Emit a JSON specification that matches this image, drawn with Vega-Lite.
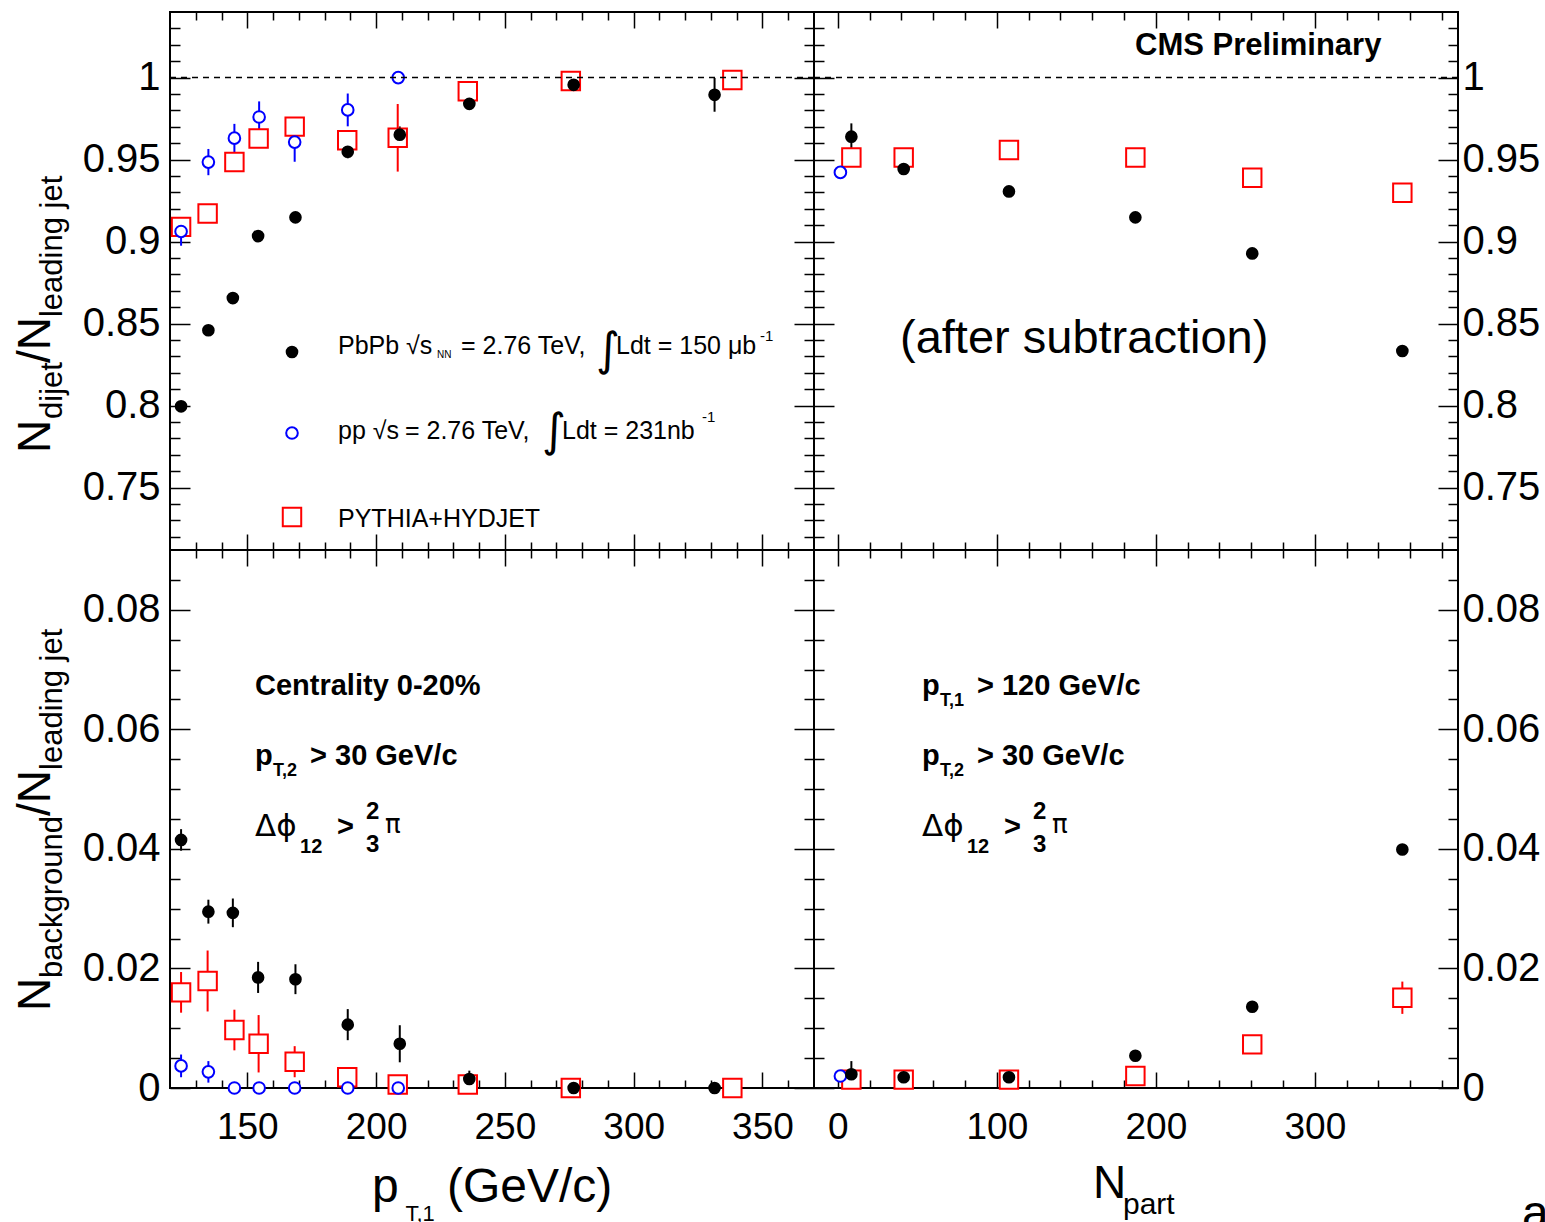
{
"$schema":"https://vega.github.io/schema/vega-lite/v6.json",
"background":"white",
"padding":{"left":11,"top":7,"right":5,"bottom":0},
"autosize":{"type":"pad"},
"config":{"view":{"stroke":"black","strokeWidth":2},"text":{"font":"Liberation Sans","color":"black"},"axis":{"tickColor":"black","tickWidth":1.5,"labelColor":"black","labelFont":"Liberation Sans","labelFontSize":37,"domain":false,"grid":false,"labelOverlap":false,"labelFlush":false,"labelBound":false},"axisY":{"labelFontSize":40}},
"datasets":{"pts":[
{"p":"TL","s":"PbPb","x":124.3,"y":0.7996,"e":0.002},
{"p":"TL","s":"PbPb","x":134.9,"y":0.846,"e":0.002},
{"p":"TL","s":"PbPb","x":144.4,"y":0.8656,"e":0.002},
{"p":"TL","s":"PbPb","x":154.2,"y":0.9034,"e":0.002},
{"p":"TL","s":"PbPb","x":168.7,"y":0.9148,"e":0.002},
{"p":"TL","s":"PbPb","x":189.0,"y":0.9548,"e":0.004},
{"p":"TL","s":"PbPb","x":209.2,"y":0.9652,"e":0.005},
{"p":"TL","s":"PbPb","x":236.2,"y":0.984,"e":0.002},
{"p":"TL","s":"PbPb","x":276.7,"y":0.9956,"e":0.003},
{"p":"TL","s":"PbPb","x":331.4,"y":0.9895,"e":0.0103},
{"p":"TL","s":"pp","x":124.3,"y":0.9062,"e":0.0087},
{"p":"TL","s":"pp","x":134.9,"y":0.9485,"e":0.008},
{"p":"TL","s":"pp","x":145.0,"y":0.9631,"e":0.0087},
{"p":"TL","s":"pp","x":154.6,"y":0.976,"e":0.0095},
{"p":"TL","s":"pp","x":168.4,"y":0.9607,"e":0.012},
{"p":"TL","s":"pp","x":189.0,"y":0.9803,"e":0.01},
{"p":"TL","s":"pp","x":208.6,"y":1.0,"e":0},
{"p":"TL","s":"PYTHIA+HYDJET","x":124.3,"y":0.909,"e":0.003},
{"p":"TL","s":"PYTHIA+HYDJET","x":134.6,"y":0.9171,"e":0.004},
{"p":"TL","s":"PYTHIA+HYDJET","x":145.0,"y":0.9485,"e":0.002},
{"p":"TL","s":"PYTHIA+HYDJET","x":154.4,"y":0.9629,"e":0.002},
{"p":"TL","s":"PYTHIA+HYDJET","x":168.4,"y":0.9701,"e":0.002},
{"p":"TL","s":"PYTHIA+HYDJET","x":188.8,"y":0.9618,"e":0.003},
{"p":"TL","s":"PYTHIA+HYDJET","x":208.4,"y":0.9633,"e":0.0206},
{"p":"TL","s":"PYTHIA+HYDJET","x":235.6,"y":0.9917,"e":0.002},
{"p":"TL","s":"PYTHIA+HYDJET","x":275.6,"y":0.9979,"e":0.002},
{"p":"TL","s":"PYTHIA+HYDJET","x":338.3,"y":0.9986,"e":0.001},
{"p":"BL","s":"PbPb","x":124.3,"y":0.0415,"e":0.0018},
{"p":"BL","s":"PbPb","x":134.9,"y":0.0295,"e":0.002},
{"p":"BL","s":"PbPb","x":144.4,"y":0.0293,"e":0.0024},
{"p":"BL","s":"PbPb","x":154.2,"y":0.0185,"e":0.0026},
{"p":"BL","s":"PbPb","x":168.7,"y":0.0182,"e":0.0025},
{"p":"BL","s":"PbPb","x":189.0,"y":0.0106,"e":0.0026},
{"p":"BL","s":"PbPb","x":209.2,"y":0.0074,"e":0.0031},
{"p":"BL","s":"PbPb","x":236.2,"y":0.0015,"e":0.0014},
{"p":"BL","s":"PbPb","x":276.7,"y":0.0,"e":0.0005},
{"p":"BL","s":"PbPb","x":331.4,"y":0.0,"e":0.0005},
{"p":"BL","s":"pp","x":124.3,"y":0.0037,"e":0.0019},
{"p":"BL","s":"pp","x":134.9,"y":0.0027,"e":0.0018},
{"p":"BL","s":"pp","x":145.0,"y":0.0,"e":0},
{"p":"BL","s":"pp","x":154.6,"y":0.0,"e":0},
{"p":"BL","s":"pp","x":168.4,"y":0.0,"e":0},
{"p":"BL","s":"pp","x":189.0,"y":0.0,"e":0},
{"p":"BL","s":"pp","x":208.6,"y":0.0,"e":0},
{"p":"BL","s":"PYTHIA+HYDJET","x":124.3,"y":0.016,"e":0.0034},
{"p":"BL","s":"PYTHIA+HYDJET","x":134.6,"y":0.0179,"e":0.0051},
{"p":"BL","s":"PYTHIA+HYDJET","x":145.0,"y":0.0097,"e":0.0034},
{"p":"BL","s":"PYTHIA+HYDJET","x":154.4,"y":0.0074,"e":0.0048},
{"p":"BL","s":"PYTHIA+HYDJET","x":168.4,"y":0.0044,"e":0.0026},
{"p":"BL","s":"PYTHIA+HYDJET","x":188.8,"y":0.0018,"e":0.001},
{"p":"BL","s":"PYTHIA+HYDJET","x":208.4,"y":0.0006,"e":0.0005},
{"p":"BL","s":"PYTHIA+HYDJET","x":235.6,"y":0.0006,"e":0.0005},
{"p":"BL","s":"PYTHIA+HYDJET","x":275.6,"y":0.0,"e":0},
{"p":"BL","s":"PYTHIA+HYDJET","x":338.3,"y":0.0,"e":0},
{"p":"TR","s":"PbPb","x":8.5,"y":0.964,"e":0.0081},
{"p":"TR","s":"PbPb","x":41.4,"y":0.9443,"e":0.002},
{"p":"TR","s":"PbPb","x":107.6,"y":0.9306,"e":0.002},
{"p":"TR","s":"PbPb","x":187.1,"y":0.9148,"e":0.002},
{"p":"TR","s":"PbPb","x":260.6,"y":0.8928,"e":0.002},
{"p":"TR","s":"PbPb","x":355.0,"y":0.8333,"e":0.002},
{"p":"TR","s":"pp","x":1.6,"y":0.9422,"e":0.002},
{"p":"TR","s":"PYTHIA+HYDJET","x":8.5,"y":0.9513,"e":0.002},
{"p":"TR","s":"PYTHIA+HYDJET","x":41.4,"y":0.9513,"e":0.002},
{"p":"TR","s":"PYTHIA+HYDJET","x":107.6,"y":0.9559,"e":0.002},
{"p":"TR","s":"PYTHIA+HYDJET","x":187.1,"y":0.9513,"e":0.002},
{"p":"TR","s":"PYTHIA+HYDJET","x":260.6,"y":0.9389,"e":0.002},
{"p":"TR","s":"PYTHIA+HYDJET","x":355.0,"y":0.9298,"e":0.002},
{"p":"BR","s":"PbPb","x":8.5,"y":0.0023,"e":0.0022},
{"p":"BR","s":"PbPb","x":41.4,"y":0.0018,"e":0.0008},
{"p":"BR","s":"PbPb","x":107.6,"y":0.0018,"e":0.0008},
{"p":"BR","s":"PbPb","x":187.1,"y":0.0054,"e":0.0008},
{"p":"BR","s":"PbPb","x":260.6,"y":0.0136,"e":0.0008},
{"p":"BR","s":"PbPb","x":355.0,"y":0.0399,"e":0.0008},
{"p":"BR","s":"pp","x":1.6,"y":0.002,"e":0.0005},
{"p":"BR","s":"PYTHIA+HYDJET","x":8.5,"y":0.0014,"e":0.0005},
{"p":"BR","s":"PYTHIA+HYDJET","x":41.4,"y":0.0014,"e":0.0005},
{"p":"BR","s":"PYTHIA+HYDJET","x":107.6,"y":0.0014,"e":0.0005},
{"p":"BR","s":"PYTHIA+HYDJET","x":187.1,"y":0.002,"e":0.0005},
{"p":"BR","s":"PYTHIA+HYDJET","x":260.6,"y":0.0073,"e":0.0008},
{"p":"BR","s":"PYTHIA+HYDJET","x":355.0,"y":0.0151,"e":0.0027}
]},
"data":{"name":"pts"},
"spacing":0,
"bounds":"flush",
"columns":2,
"concat":[
{
"width":644,"height":538,
"resolve":{"axis":{"x":"independent","y":"independent"}},
"layer":[
{"transform":[{"filter":"datum.p==='TL' && datum.e>0"}],
 "mark":{"type":"errorbar","ticks":false,"thickness":2},
 "encoding":{"x":{"field":"x","type":"quantitative","scale":{"domain":[120,370],"nice":false,"zero":false},"axis":null},
  "y":{"field":"y","type":"quantitative","scale":{"domain":[0.712,1.04],"nice":false,"zero":false},"axis":null},
  "yError":{"field":"e"},
  "color":{"field":"s","type":"nominal","scale":{"domain":["PbPb","pp","PYTHIA+HYDJET"],"range":["#000000","#0000ff","#ff0000"]},"legend":null}}},
{"transform":[{"filter":"datum.p==='TL' && datum.s==='PYTHIA+HYDJET'"}],
 "mark":{"type":"point","shape":"square","size":340,"filled":true,"fill":"white","stroke":"#ff0000","strokeWidth":2,"opacity":1},
 "encoding":{"x":{"field":"x","type":"quantitative","scale":{"domain":[120,370],"nice":false,"zero":false},
   "axis":{"orient":"bottom","title":null,"values":[130,140,150,160,170,180,190,200,210,220,230,240,250,260,270,280,290,300,310,320,330,340,350,360],"labels":false,"tickSize":{"condition":{"test":"datum.value % 50 === 0","value":-16},"value":-8}}},
  "y":{"field":"y","type":"quantitative","scale":{"domain":[0.712,1.04],"nice":false,"zero":false},
   "axis":{"orient":"left","title":null,"values":[0.72,0.73,0.74,0.75,0.76,0.77,0.78,0.79,0.8,0.81,0.82,0.83,0.84,0.85,0.86,0.87,0.88,0.89,0.9,0.91,0.92,0.93,0.94,0.95,0.96,0.97,0.98,0.99,1,1.01,1.02,1.03],"labelExpr":"round(datum.value*100) % 5 === 0 ? format(datum.value,'~g') : ''","labelPadding":30,"tickSize":{"condition":{"test":"round(datum.value*100) % 5 === 0","value":-20},"value":-10}}}}},
{"transform":[{"filter":"datum.p==='TL' && datum.s==='pp'"}],
 "mark":{"type":"point","shape":"circle","size":135,"filled":true,"fill":"white","stroke":"#0000ff","strokeWidth":2,"opacity":1},
 "encoding":{"x":{"field":"x","type":"quantitative","scale":{"domain":[120,370],"nice":false,"zero":false},"axis":null},
  "y":{"field":"y","type":"quantitative","scale":{"domain":[0.712,1.04],"nice":false,"zero":false},"axis":null}}},
{"transform":[{"filter":"datum.p==='TL' && datum.s==='PbPb'"}],
 "mark":{"type":"point","shape":"circle","size":160,"filled":true,"fill":"black","strokeWidth":0,"opacity":1},
 "encoding":{"x":{"field":"x","type":"quantitative","scale":{"domain":[120,370],"nice":false,"zero":false},
   "axis":{"orient":"top","title":null,"values":[130,140,150,160,170,180,190,200,210,220,230,240,250,260,270,280,290,300,310,320,330,340,350,360],"labels":false,"tickSize":{"condition":{"test":"datum.value % 50 === 0","value":-16},"value":-8}}},
  "y":{"field":"y","type":"quantitative","scale":{"domain":[0.712,1.04],"nice":false,"zero":false},
   "axis":{"orient":"right","title":null,"values":[0.72,0.73,0.74,0.75,0.76,0.77,0.78,0.79,0.8,0.81,0.82,0.83,0.84,0.85,0.86,0.87,0.88,0.89,0.9,0.91,0.92,0.93,0.94,0.95,0.96,0.97,0.98,0.99,1,1.01,1.02,1.03],"labels":false,"tickSize":{"condition":{"test":"round(datum.value*100) % 5 === 0","value":-20},"value":-10}}}}},
{"data":{"values":[{}]},
 "layer":[
 {"mark":{"type":"rule","strokeDash":[6,5],"strokeWidth":1.5,"color":"black"},"encoding":{"y":{"datum":1,"type":"quantitative","axis":null}}},
 {"mark":{"type":"point","shape":"circle","size":160,"filled":true,"fill":"black","strokeWidth":0,"opacity":1},"encoding":{"x":{"datum":167.36,"type":"quantitative","axis":null},"y":{"datum":0.8327,"type":"quantitative","axis":null}}},
 {"mark":{"type":"point","shape":"circle","size":135,"filled":true,"fill":"white","stroke":"#0000ff","strokeWidth":2,"opacity":1},"encoding":{"x":{"datum":167.36,"type":"quantitative","axis":null},"y":{"datum":0.7833,"type":"quantitative","axis":null}}},
 {"mark":{"type":"point","shape":"square","size":340,"filled":true,"fill":"white","stroke":"#ff0000","strokeWidth":2,"opacity":1},"encoding":{"x":{"datum":167.36,"type":"quantitative","axis":null},"y":{"datum":0.7321,"type":"quantitative","axis":null}}},
 {"mark":{"type":"text","text":"PbPb √s","fontSize":25,"align":"left","baseline":"alphabetic"},"encoding":{"x":{"datum":185.22,"type":"quantitative","axis":null},"y":{"datum":0.8315,"type":"quantitative","axis":null}}},
 {"mark":{"type":"text","text":"NN","fontSize":10,"align":"left","baseline":"alphabetic"},"encoding":{"x":{"datum":223.65,"type":"quantitative","axis":null},"y":{"datum":0.8291,"type":"quantitative","axis":null}}},
 {"mark":{"type":"text","text":"= 2.76 TeV,","fontSize":25,"align":"left","baseline":"alphabetic"},"encoding":{"x":{"datum":232.97,"type":"quantitative","axis":null},"y":{"datum":0.8315,"type":"quantitative","axis":null}}},
 {"mark":{"type":"text","text":"∫","font":"DejaVu Sans","fontSize":46,"align":"left","baseline":"alphabetic"},"encoding":{"x":{"datum":285.37,"type":"quantitative","axis":null},"y":{"datum":0.8248,"type":"quantitative","axis":null}}},
 {"mark":{"type":"text","text":"Ldt = 150 μb","fontSize":25,"align":"left","baseline":"alphabetic"},"encoding":{"x":{"datum":293.14,"type":"quantitative","axis":null},"y":{"datum":0.8315,"type":"quantitative","axis":null}}},
 {"mark":{"type":"text","text":"-1","fontSize":15,"align":"left","baseline":"alphabetic"},"encoding":{"x":{"datum":349.04,"type":"quantitative","axis":null},"y":{"datum":0.8394,"type":"quantitative","axis":null}}},
 {"mark":{"type":"text","text":"pp √s","fontSize":25,"align":"left","baseline":"alphabetic"},"encoding":{"x":{"datum":185.22,"type":"quantitative","axis":null},"y":{"datum":0.7797,"type":"quantitative","axis":null}}},
 {"mark":{"type":"text","text":"= 2.76 TeV,","fontSize":25,"align":"left","baseline":"alphabetic"},"encoding":{"x":{"datum":211.2,"type":"quantitative","axis":null},"y":{"datum":0.7797,"type":"quantitative","axis":null}}},
 {"mark":{"type":"text","text":"∫","font":"DejaVu Sans","fontSize":46,"align":"left","baseline":"alphabetic"},"encoding":{"x":{"datum":264.41,"type":"quantitative","axis":null},"y":{"datum":0.7754,"type":"quantitative","axis":null}}},
 {"mark":{"type":"text","text":"Ldt = 231nb","fontSize":25,"align":"left","baseline":"alphabetic"},"encoding":{"x":{"datum":272.17,"type":"quantitative","axis":null},"y":{"datum":0.7797,"type":"quantitative","axis":null}}},
 {"mark":{"type":"text","text":"-1","fontSize":15,"align":"left","baseline":"alphabetic"},"encoding":{"x":{"datum":326.52,"type":"quantitative","axis":null},"y":{"datum":0.79,"type":"quantitative","axis":null}}},
 {"mark":{"type":"text","text":"PYTHIA+HYDJET","fontSize":25,"align":"left","baseline":"alphabetic"},"encoding":{"x":{"datum":185.22,"type":"quantitative","axis":null},"y":{"datum":0.726,"type":"quantitative","axis":null}}},
 {"mark":{"type":"text","text":"N","fontSize":46,"angle":270,"align":"left","baseline":"alphabetic"},"encoding":{"x":{"datum":73.41,"type":"quantitative","axis":null},"y":{"datum":0.7711,"type":"quantitative","axis":null}}},
 {"mark":{"type":"text","text":"dijet","fontSize":31,"angle":270,"align":"left","baseline":"alphabetic"},"encoding":{"x":{"datum":78.07,"type":"quantitative","axis":null},"y":{"datum":0.7919,"type":"quantitative","axis":null}}},
 {"mark":{"type":"text","text":"/N","fontSize":46,"angle":270,"align":"left","baseline":"alphabetic"},"encoding":{"x":{"datum":73.41,"type":"quantitative","axis":null},"y":{"datum":0.826,"type":"quantitative","axis":null}}},
 {"mark":{"type":"text","text":"leading jet","fontSize":31,"angle":270,"align":"left","baseline":"alphabetic"},"encoding":{"x":{"datum":78.07,"type":"quantitative","axis":null},"y":{"datum":0.854,"type":"quantitative","axis":null}}}
 ]}
]
},
{
"width":644,"height":538,
"resolve":{"axis":{"x":"independent","y":"independent"}},
"layer":[
{"transform":[{"filter":"datum.p==='TR' && datum.e>0"}],
 "mark":{"type":"errorbar","ticks":false,"thickness":2},
 "encoding":{"x":{"field":"x","type":"quantitative","scale":{"domain":[-15,390],"nice":false,"zero":false},"axis":null},
  "y":{"field":"y","type":"quantitative","scale":{"domain":[0.712,1.04],"nice":false,"zero":false},"axis":null},
  "yError":{"field":"e"},
  "color":{"field":"s","type":"nominal","scale":{"domain":["PbPb","pp","PYTHIA+HYDJET"],"range":["#000000","#0000ff","#ff0000"]},"legend":null}}},
{"transform":[{"filter":"datum.p==='TR' && datum.s==='PYTHIA+HYDJET'"}],
 "mark":{"type":"point","shape":"square","size":340,"filled":true,"fill":"white","stroke":"#ff0000","strokeWidth":2,"opacity":1},
 "encoding":{"x":{"field":"x","type":"quantitative","scale":{"domain":[-15,390],"nice":false,"zero":false},
   "axis":{"orient":"bottom","title":null,"values":[0,20,40,60,80,100,120,140,160,180,200,220,240,260,280,300,320,340,360,380],"labels":false,"tickSize":{"condition":{"test":"datum.value % 100 === 0","value":-16},"value":-8}}},
  "y":{"field":"y","type":"quantitative","scale":{"domain":[0.712,1.04],"nice":false,"zero":false},
   "axis":{"orient":"left","title":null,"values":[0.72,0.73,0.74,0.75,0.76,0.77,0.78,0.79,0.8,0.81,0.82,0.83,0.84,0.85,0.86,0.87,0.88,0.89,0.9,0.91,0.92,0.93,0.94,0.95,0.96,0.97,0.98,0.99,1,1.01,1.02,1.03],"labels":false,"tickSize":{"condition":{"test":"round(datum.value*100) % 5 === 0","value":-20},"value":-10}}}}},
{"transform":[{"filter":"datum.p==='TR' && datum.s==='pp'"}],
 "mark":{"type":"point","shape":"circle","size":135,"filled":true,"fill":"white","stroke":"#0000ff","strokeWidth":2,"opacity":1},
 "encoding":{"x":{"field":"x","type":"quantitative","scale":{"domain":[-15,390],"nice":false,"zero":false},"axis":null},
  "y":{"field":"y","type":"quantitative","scale":{"domain":[0.712,1.04],"nice":false,"zero":false},"axis":null}}},
{"transform":[{"filter":"datum.p==='TR' && datum.s==='PbPb'"}],
 "mark":{"type":"point","shape":"circle","size":160,"filled":true,"fill":"black","strokeWidth":0,"opacity":1},
 "encoding":{"x":{"field":"x","type":"quantitative","scale":{"domain":[-15,390],"nice":false,"zero":false},
   "axis":{"orient":"top","title":null,"values":[0,20,40,60,80,100,120,140,160,180,200,220,240,260,280,300,320,340,360,380],"labels":false,"tickSize":{"condition":{"test":"datum.value % 100 === 0","value":-16},"value":-8}}},
  "y":{"field":"y","type":"quantitative","scale":{"domain":[0.712,1.04],"nice":false,"zero":false},
   "axis":{"orient":"right","title":null,"values":[0.72,0.73,0.74,0.75,0.76,0.77,0.78,0.79,0.8,0.81,0.82,0.83,0.84,0.85,0.86,0.87,0.88,0.89,0.9,0.91,0.92,0.93,0.94,0.95,0.96,0.97,0.98,0.99,1,1.01,1.02,1.03],"labelExpr":"round(datum.value*100) % 5 === 0 ? format(datum.value,'~g') : ''","labelPadding":24,"tickSize":{"condition":{"test":"round(datum.value*100) % 5 === 0","value":-20},"value":-10}}}}},
{"data":{"values":[{}]},
 "layer":[
 {"mark":{"type":"rule","strokeDash":[6,5],"strokeWidth":1.5,"color":"black"},"encoding":{"y":{"datum":1,"type":"quantitative","axis":null}}},
 {"mark":{"type":"text","text":"CMS Preliminary","fontSize":31,"fontWeight":"bold","align":"left","baseline":"alphabetic"},"encoding":{"x":{"datum":186.9,"type":"quantitative","axis":null},"y":{"datum":1.0138,"type":"quantitative","axis":null}}},
 {"mark":{"type":"text","text":"(after subtraction)","fontSize":47,"align":"left","baseline":"alphabetic"},"encoding":{"x":{"datum":39.1,"type":"quantitative","axis":null},"y":{"datum":0.8321,"type":"quantitative","axis":null}}}
 ]}
]
},
{
"width":644,"height":538,
"resolve":{"axis":{"x":"independent","y":"independent"}},
"layer":[
{"transform":[{"filter":"datum.p==='BL' && datum.e>0"}],
 "mark":{"type":"errorbar","ticks":false,"thickness":2},
 "encoding":{"x":{"field":"x","type":"quantitative","scale":{"domain":[120,370],"nice":false,"zero":false},"axis":null},
  "y":{"field":"y","type":"quantitative","scale":{"domain":[0,0.09],"nice":false,"zero":false},"axis":null},
  "yError":{"field":"e"},
  "color":{"field":"s","type":"nominal","scale":{"domain":["PbPb","pp","PYTHIA+HYDJET"],"range":["#000000","#0000ff","#ff0000"]},"legend":null}}},
{"transform":[{"filter":"datum.p==='BL' && datum.s==='PYTHIA+HYDJET'"}],
 "mark":{"type":"point","shape":"square","size":340,"filled":true,"fill":"white","stroke":"#ff0000","strokeWidth":2,"opacity":1},
 "encoding":{"x":{"field":"x","type":"quantitative","scale":{"domain":[120,370],"nice":false,"zero":false},
   "axis":{"orient":"bottom","title":null,"values":[130,140,150,160,170,180,190,200,210,220,230,240,250,260,270,280,290,300,310,320,330,340,350,360],"labelExpr":"datum.value % 50 === 0 ? format(datum.value,'d') : ''","labelPadding":37,"tickSize":{"condition":{"test":"datum.value % 50 === 0","value":-16},"value":-8}}},
  "y":{"field":"y","type":"quantitative","scale":{"domain":[0,0.09],"nice":false,"zero":false},
   "axis":{"orient":"left","title":null,"values":[0,0.005,0.01,0.015,0.02,0.025,0.03,0.035,0.04,0.045,0.05,0.055,0.06,0.065,0.07,0.075,0.08,0.085],"labelExpr":"round(datum.value*1000) % 20 === 0 ? format(datum.value,'~g') : ''","labelPadding":30,"tickSize":{"condition":{"test":"round(datum.value*1000) % 20 === 0","value":-20},"value":-10}}}}},
{"transform":[{"filter":"datum.p==='BL' && datum.s==='pp'"}],
 "mark":{"type":"point","shape":"circle","size":135,"filled":true,"fill":"white","stroke":"#0000ff","strokeWidth":2,"opacity":1},
 "encoding":{"x":{"field":"x","type":"quantitative","scale":{"domain":[120,370],"nice":false,"zero":false},"axis":null},
  "y":{"field":"y","type":"quantitative","scale":{"domain":[0,0.09],"nice":false,"zero":false},"axis":null}}},
{"transform":[{"filter":"datum.p==='BL' && datum.s==='PbPb'"}],
 "mark":{"type":"point","shape":"circle","size":160,"filled":true,"fill":"black","strokeWidth":0,"opacity":1},
 "encoding":{"x":{"field":"x","type":"quantitative","scale":{"domain":[120,370],"nice":false,"zero":false},
   "axis":{"orient":"top","title":null,"values":[130,140,150,160,170,180,190,200,210,220,230,240,250,260,270,280,290,300,310,320,330,340,350,360],"labels":false,"tickSize":{"condition":{"test":"datum.value % 50 === 0","value":-16},"value":-8}}},
  "y":{"field":"y","type":"quantitative","scale":{"domain":[0,0.09],"nice":false,"zero":false},
   "axis":{"orient":"right","title":null,"values":[0,0.005,0.01,0.015,0.02,0.025,0.03,0.035,0.04,0.045,0.05,0.055,0.06,0.065,0.07,0.075,0.08,0.085],"labels":false,"tickSize":{"condition":{"test":"round(datum.value*1000) % 20 === 0","value":-20},"value":-10}}}}},
{"data":{"values":[{}]},
 "layer":[
 {"mark":{"type":"text","text":"Centrality 0-20%","fontSize":29,"fontWeight":"bold","align":"left","baseline":"alphabetic"},"encoding":{"x":{"datum":153.0,"type":"quantitative","axis":null},"y":{"datum":0.06574,"type":"quantitative","axis":null}}},
 {"mark":{"type":"text","text":"p","fontSize":29,"fontWeight":"bold","align":"left","baseline":"alphabetic"},"encoding":{"x":{"datum":153.0,"type":"quantitative","axis":null},"y":{"datum":0.05403,"type":"quantitative","axis":null}}},
 {"mark":{"type":"text","text":"T,2","fontSize":18,"fontWeight":"bold","align":"left","baseline":"alphabetic"},"encoding":{"x":{"datum":159.98,"type":"quantitative","axis":null},"y":{"datum":0.05219,"type":"quantitative","axis":null}}},
 {"mark":{"type":"text","text":"> 30 GeV/c","fontSize":29,"fontWeight":"bold","align":"left","baseline":"alphabetic"},"encoding":{"x":{"datum":174.35,"type":"quantitative","axis":null},"y":{"datum":0.05403,"type":"quantitative","axis":null}}},
 {"mark":{"type":"text","text":"Δϕ","font":"DejaVu Sans","fontSize":31,"align":"left","baseline":"alphabetic"},"encoding":{"x":{"datum":153.0,"type":"quantitative","axis":null},"y":{"datum":0.04215,"type":"quantitative","axis":null}}},
 {"mark":{"type":"text","text":"12","fontSize":20,"fontWeight":"bold","align":"left","baseline":"alphabetic"},"encoding":{"x":{"datum":170.47,"type":"quantitative","axis":null},"y":{"datum":0.03931,"type":"quantitative","axis":null}}},
 {"mark":{"type":"text","text":">","fontSize":29,"fontWeight":"bold","align":"left","baseline":"alphabetic"},"encoding":{"x":{"datum":184.83,"type":"quantitative","axis":null},"y":{"datum":0.04215,"type":"quantitative","axis":null}}},
 {"mark":{"type":"text","text":"2","fontSize":24,"fontWeight":"bold","align":"left","baseline":"alphabetic"},"encoding":{"x":{"datum":196.09,"type":"quantitative","axis":null},"y":{"datum":0.045,"type":"quantitative","axis":null}}},
 {"mark":{"type":"text","text":"3","fontSize":24,"fontWeight":"bold","align":"left","baseline":"alphabetic"},"encoding":{"x":{"datum":196.09,"type":"quantitative","axis":null},"y":{"datum":0.03948,"type":"quantitative","axis":null}}},
 {"mark":{"type":"text","text":"π","font":"DejaVu Sans","fontSize":26,"align":"left","baseline":"alphabetic"},"encoding":{"x":{"datum":203.46,"type":"quantitative","axis":null},"y":{"datum":0.04266,"type":"quantitative","axis":null}}},
 {"mark":{"type":"text","text":"N","fontSize":46,"angle":270,"align":"left","baseline":"alphabetic"},"encoding":{"x":{"datum":73.41,"type":"quantitative","axis":null},"y":{"datum":0.01288,"type":"quantitative","axis":null}}},
 {"mark":{"type":"text","text":"background","fontSize":31,"angle":270,"align":"left","baseline":"alphabetic"},"encoding":{"x":{"datum":78.07,"type":"quantitative","axis":null},"y":{"datum":0.0184,"type":"quantitative","axis":null}}},
 {"mark":{"type":"text","text":"/N","fontSize":46,"angle":270,"align":"left","baseline":"alphabetic"},"encoding":{"x":{"datum":73.41,"type":"quantitative","axis":null},"y":{"datum":0.0455,"type":"quantitative","axis":null}}},
 {"mark":{"type":"text","text":"leading jet","fontSize":31,"angle":270,"align":"left","baseline":"alphabetic"},"encoding":{"x":{"datum":78.07,"type":"quantitative","axis":null},"y":{"datum":0.0532,"type":"quantitative","axis":null}}},
 {"mark":{"type":"text","text":"p","fontSize":48,"align":"left","baseline":"alphabetic"},"encoding":{"x":{"datum":198.4,"type":"quantitative","axis":null},"y":{"datum":-0.01907,"type":"quantitative","axis":null}}},
 {"mark":{"type":"text","text":"T,1","fontSize":22,"align":"left","baseline":"alphabetic"},"encoding":{"x":{"datum":211.4,"type":"quantitative","axis":null},"y":{"datum":-0.02225,"type":"quantitative","axis":null}}},
 {"mark":{"type":"text","text":"(GeV/c)","fontSize":48,"align":"left","baseline":"alphabetic"},"encoding":{"x":{"datum":227.5,"type":"quantitative","axis":null},"y":{"datum":-0.01907,"type":"quantitative","axis":null}}}
 ]}
]
},
{
"width":644,"height":538,
"resolve":{"axis":{"x":"independent","y":"independent"}},
"layer":[
{"transform":[{"filter":"datum.p==='BR' && datum.e>0"}],
 "mark":{"type":"errorbar","ticks":false,"thickness":2},
 "encoding":{"x":{"field":"x","type":"quantitative","scale":{"domain":[-15,390],"nice":false,"zero":false},"axis":null},
  "y":{"field":"y","type":"quantitative","scale":{"domain":[0,0.09],"nice":false,"zero":false},"axis":null},
  "yError":{"field":"e"},
  "color":{"field":"s","type":"nominal","scale":{"domain":["PbPb","pp","PYTHIA+HYDJET"],"range":["#000000","#0000ff","#ff0000"]},"legend":null}}},
{"transform":[{"filter":"datum.p==='BR' && datum.s==='PYTHIA+HYDJET'"}],
 "mark":{"type":"point","shape":"square","size":340,"filled":true,"fill":"white","stroke":"#ff0000","strokeWidth":2,"opacity":1},
 "encoding":{"x":{"field":"x","type":"quantitative","scale":{"domain":[-15,390],"nice":false,"zero":false},
   "axis":{"orient":"bottom","title":null,"values":[0,20,40,60,80,100,120,140,160,180,200,220,240,260,280,300,320,340,360,380],"labelExpr":"datum.value % 100 === 0 ? format(datum.value,'d') : ''","labelPadding":37,"tickSize":{"condition":{"test":"datum.value % 100 === 0","value":-16},"value":-8}}},
  "y":{"field":"y","type":"quantitative","scale":{"domain":[0,0.09],"nice":false,"zero":false},
   "axis":{"orient":"left","title":null,"values":[0,0.005,0.01,0.015,0.02,0.025,0.03,0.035,0.04,0.045,0.05,0.055,0.06,0.065,0.07,0.075,0.08,0.085],"labels":false,"tickSize":{"condition":{"test":"round(datum.value*1000) % 20 === 0","value":-20},"value":-10}}}}},
{"transform":[{"filter":"datum.p==='BR' && datum.s==='pp'"}],
 "mark":{"type":"point","shape":"circle","size":135,"filled":true,"fill":"white","stroke":"#0000ff","strokeWidth":2,"opacity":1},
 "encoding":{"x":{"field":"x","type":"quantitative","scale":{"domain":[-15,390],"nice":false,"zero":false},"axis":null},
  "y":{"field":"y","type":"quantitative","scale":{"domain":[0,0.09],"nice":false,"zero":false},"axis":null}}},
{"transform":[{"filter":"datum.p==='BR' && datum.s==='PbPb'"}],
 "mark":{"type":"point","shape":"circle","size":160,"filled":true,"fill":"black","strokeWidth":0,"opacity":1},
 "encoding":{"x":{"field":"x","type":"quantitative","scale":{"domain":[-15,390],"nice":false,"zero":false},
   "axis":{"orient":"top","title":null,"values":[0,20,40,60,80,100,120,140,160,180,200,220,240,260,280,300,320,340,360,380],"labels":false,"tickSize":{"condition":{"test":"datum.value % 100 === 0","value":-16},"value":-8}}},
  "y":{"field":"y","type":"quantitative","scale":{"domain":[0,0.09],"nice":false,"zero":false},
   "axis":{"orient":"right","title":null,"values":[0,0.005,0.01,0.015,0.02,0.025,0.03,0.035,0.04,0.045,0.05,0.055,0.06,0.065,0.07,0.075,0.08,0.085],"labelExpr":"round(datum.value*1000) % 20 === 0 ? format(datum.value,'~g') : ''","labelPadding":24,"tickSize":{"condition":{"test":"round(datum.value*1000) % 20 === 0","value":-20},"value":-10}}}}},
{"data":{"values":[{}]},
 "layer":[
 {"mark":{"type":"text","text":"p","fontSize":29,"fontWeight":"bold","align":"left","baseline":"alphabetic"},"encoding":{"x":{"datum":52.92,"type":"quantitative","axis":null},"y":{"datum":0.06574,"type":"quantitative","axis":null}}},
 {"mark":{"type":"text","text":"T,1","fontSize":18,"fontWeight":"bold","align":"left","baseline":"alphabetic"},"encoding":{"x":{"datum":64.24,"type":"quantitative","axis":null},"y":{"datum":0.0639,"type":"quantitative","axis":null}}},
 {"mark":{"type":"text","text":"> 120 GeV/c","fontSize":29,"fontWeight":"bold","align":"left","baseline":"alphabetic"},"encoding":{"x":{"datum":87.51,"type":"quantitative","axis":null},"y":{"datum":0.06574,"type":"quantitative","axis":null}}},
 {"mark":{"type":"text","text":"p","fontSize":29,"fontWeight":"bold","align":"left","baseline":"alphabetic"},"encoding":{"x":{"datum":52.92,"type":"quantitative","axis":null},"y":{"datum":0.05403,"type":"quantitative","axis":null}}},
 {"mark":{"type":"text","text":"T,2","fontSize":18,"fontWeight":"bold","align":"left","baseline":"alphabetic"},"encoding":{"x":{"datum":64.24,"type":"quantitative","axis":null},"y":{"datum":0.05219,"type":"quantitative","axis":null}}},
 {"mark":{"type":"text","text":"> 30 GeV/c","fontSize":29,"fontWeight":"bold","align":"left","baseline":"alphabetic"},"encoding":{"x":{"datum":87.51,"type":"quantitative","axis":null},"y":{"datum":0.05403,"type":"quantitative","axis":null}}},
 {"mark":{"type":"text","text":"Δϕ","font":"DejaVu Sans","fontSize":31,"align":"left","baseline":"alphabetic"},"encoding":{"x":{"datum":52.92,"type":"quantitative","axis":null},"y":{"datum":0.04215,"type":"quantitative","axis":null}}},
 {"mark":{"type":"text","text":"12","fontSize":20,"fontWeight":"bold","align":"left","baseline":"alphabetic"},"encoding":{"x":{"datum":81.22,"type":"quantitative","axis":null},"y":{"datum":0.03931,"type":"quantitative","axis":null}}},
 {"mark":{"type":"text","text":">","fontSize":29,"fontWeight":"bold","align":"left","baseline":"alphabetic"},"encoding":{"x":{"datum":104.49,"type":"quantitative","axis":null},"y":{"datum":0.04215,"type":"quantitative","axis":null}}},
 {"mark":{"type":"text","text":"2","fontSize":24,"fontWeight":"bold","align":"left","baseline":"alphabetic"},"encoding":{"x":{"datum":122.73,"type":"quantitative","axis":null},"y":{"datum":0.045,"type":"quantitative","axis":null}}},
 {"mark":{"type":"text","text":"3","fontSize":24,"fontWeight":"bold","align":"left","baseline":"alphabetic"},"encoding":{"x":{"datum":122.73,"type":"quantitative","axis":null},"y":{"datum":0.03948,"type":"quantitative","axis":null}}},
 {"mark":{"type":"text","text":"π","font":"DejaVu Sans","fontSize":26,"align":"left","baseline":"alphabetic"},"encoding":{"x":{"datum":134.68,"type":"quantitative","axis":null},"y":{"datum":0.04266,"type":"quantitative","axis":null}}},
 {"mark":{"type":"text","text":"N","fontSize":46,"align":"left","baseline":"alphabetic"},"encoding":{"x":{"datum":160.5,"type":"quantitative","axis":null},"y":{"datum":-0.0184,"type":"quantitative","axis":null}}},
 {"mark":{"type":"text","text":"part","fontSize":30,"align":"left","baseline":"alphabetic"},"encoding":{"x":{"datum":179.3,"type":"quantitative","axis":null},"y":{"datum":-0.02108,"type":"quantitative","axis":null}}},
 {"mark":{"type":"text","text":"a","fontSize":48,"align":"left","baseline":"alphabetic"},"encoding":{"x":{"datum":430.25,"type":"quantitative","axis":null},"y":{"datum":-0.02359,"type":"quantitative","axis":null}}}
 ]}
]
}
]
}
